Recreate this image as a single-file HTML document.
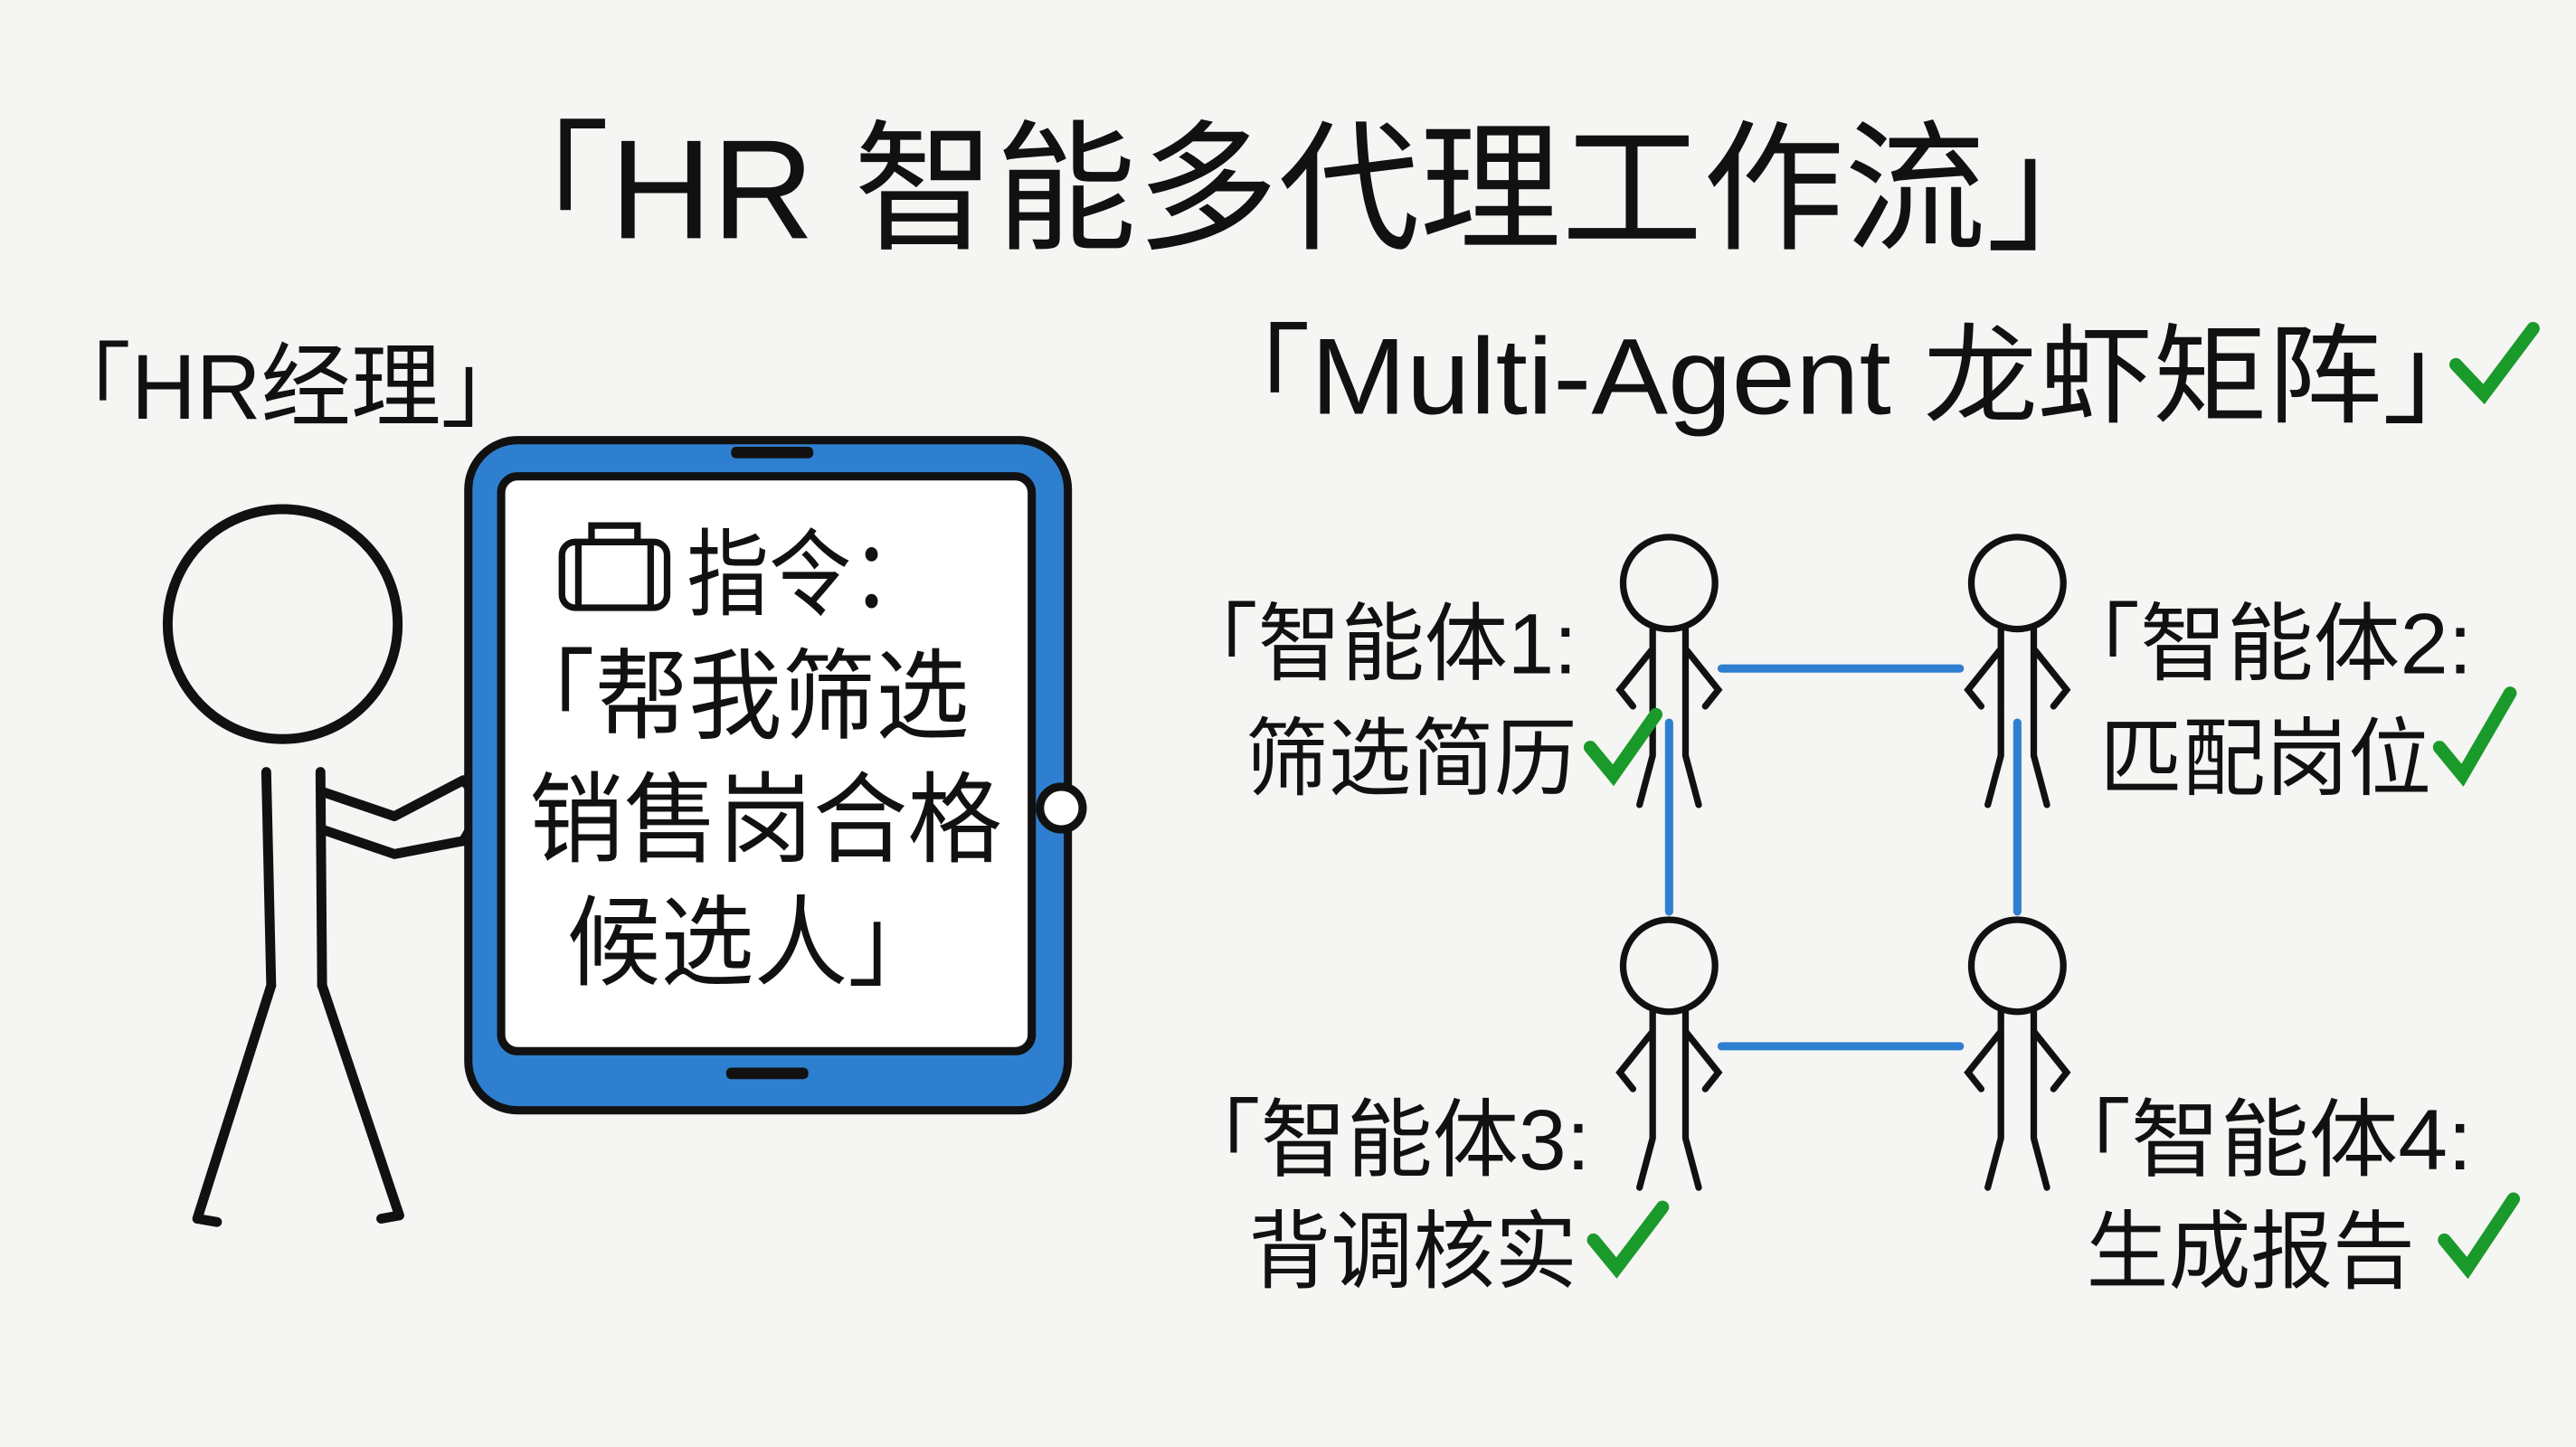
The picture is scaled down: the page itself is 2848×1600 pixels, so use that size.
<!DOCTYPE html>
<html><head><meta charset="utf-8"><style>
html,body{margin:0;padding:0;background:#f5f5f3;width:2848px;height:1600px;overflow:hidden}
svg{display:block}
text{font-family:"Liberation Sans","Noto Sans CJK SC",sans-serif;fill:#111}
</style></head><body>
<svg width="2848" height="1600" viewBox="0 0 1568 881" xmlns="http://www.w3.org/2000/svg">
<defs>
<g id="a" stroke="#111" stroke-width="4" fill="none" stroke-linecap="round"><circle cx="0" cy="0" r="28"/><path d="M-10 28 V105 M10 28 V105 M-10 40 L-30 65 L-22 75 M10 40 L30 65 L22 75 M-10 105 L-18 135 M10 105 L18 135"/></g>
</defs>
<rect width="1568" height="881" fill="#f5f5f3"/>
<text x="285" y="145" font-size="86" textLength="1010" lengthAdjust="spacingAndGlyphs">「HR 智能多代理工作流」</text>
<text x="25" y="255" font-size="56" textLength="298" lengthAdjust="spacingAndGlyphs">「HR经理」</text>
<g stroke="#111" stroke-width="6" fill="none" stroke-linecap="round" stroke-linejoin="round">
<circle cx="172" cy="380" r="70"/>
<path d="M162 470 L165 600 M195 470 L196 600"/>
<path d="M165 600 L120 742 M196 600 L243 740 M120 742 L132 744 M243 740 L232 742"/>
<path d="M196 482 L240 497 L282 475 L295 490 L282 512 L240 520 L196 505"/>
</g>
<rect x="285" y="268" width="365" height="408" rx="30" fill="#2f7fd0" stroke="#111" stroke-width="5"/>
<rect x="305" y="290" width="323" height="350" rx="10" fill="#fff" stroke="#111" stroke-width="5"/>
<rect x="445" y="272" width="50" height="7" rx="3" fill="#111"/>
<rect x="442" y="650" width="50" height="7" rx="3" fill="#111"/>
<circle cx="646" cy="492" r="13" fill="#fff" stroke="#111" stroke-width="5"/>
<g stroke="#111" stroke-width="4" fill="none"><rect x="342" y="330" width="64" height="40" rx="8"/><path d="M360 330 v-10 h28 v10 M352 330 v40 M396 330 v40"/></g>
<text x="418" y="370" font-size="58" textLength="150" lengthAdjust="spacingAndGlyphs">指令：</text>
<text x="305" y="445" font-size="60" textLength="285" lengthAdjust="spacingAndGlyphs">「帮我筛选</text>
<text x="322" y="520" font-size="60" textLength="288" lengthAdjust="spacingAndGlyphs">销售岗合格</text>
<text x="345" y="595" font-size="60" textLength="228" lengthAdjust="spacingAndGlyphs">候选人」</text>
<text x="728" y="252" font-size="66" textLength="792" lengthAdjust="spacingAndGlyphs">「Multi-Agent 龙虾矩阵」</text>
<path d="M1495 222 L1512 240 L1542 200" stroke="#1a9a2a" stroke-width="8" fill="none" stroke-linecap="round"/>
<g stroke="#2f7fd0" stroke-width="5" stroke-linecap="round">
<line x1="1048" y1="407" x2="1193" y2="407"/><line x1="1048" y1="637" x2="1193" y2="637"/>
<line x1="1016" y1="440" x2="1016" y2="555"/><line x1="1228" y1="440" x2="1228" y2="555"/>
</g>
<use href="#a" transform="translate(1016,355)"/>
<use href="#a" transform="translate(1228,355)"/>
<use href="#a" transform="translate(1016,588)"/>
<use href="#a" transform="translate(1228,588)"/>
<text x="715" y="410" font-size="52" textLength="245" lengthAdjust="spacingAndGlyphs">「智能体1:</text>
<text x="758" y="480" font-size="52" textLength="202" lengthAdjust="spacingAndGlyphs">筛选简历</text>
<text x="1250" y="410" font-size="52" textLength="255" lengthAdjust="spacingAndGlyphs">「智能体2:</text>
<text x="1278" y="480" font-size="52" textLength="202" lengthAdjust="spacingAndGlyphs">匹配岗位</text>
<text x="715" y="712" font-size="52" textLength="253" lengthAdjust="spacingAndGlyphs">「智能体3:</text>
<text x="760" y="780" font-size="52" textLength="200" lengthAdjust="spacingAndGlyphs">背调核实</text>
<text x="1243" y="712" font-size="52" textLength="262" lengthAdjust="spacingAndGlyphs">「智能体4:</text>
<text x="1270" y="780" font-size="52" textLength="200" lengthAdjust="spacingAndGlyphs">生成报告</text>
<g stroke="#1a9a2a" stroke-width="8" fill="none" stroke-linecap="round">
<path d="M968 455 L982 472 L1008 435"/>
<path d="M1485 455 L1499 472 L1528 422"/>
<path d="M970 755 L984 772 L1012 735"/>
<path d="M1488 755 L1502 772 L1530 730"/>
</g>
</svg>
</body></html>
